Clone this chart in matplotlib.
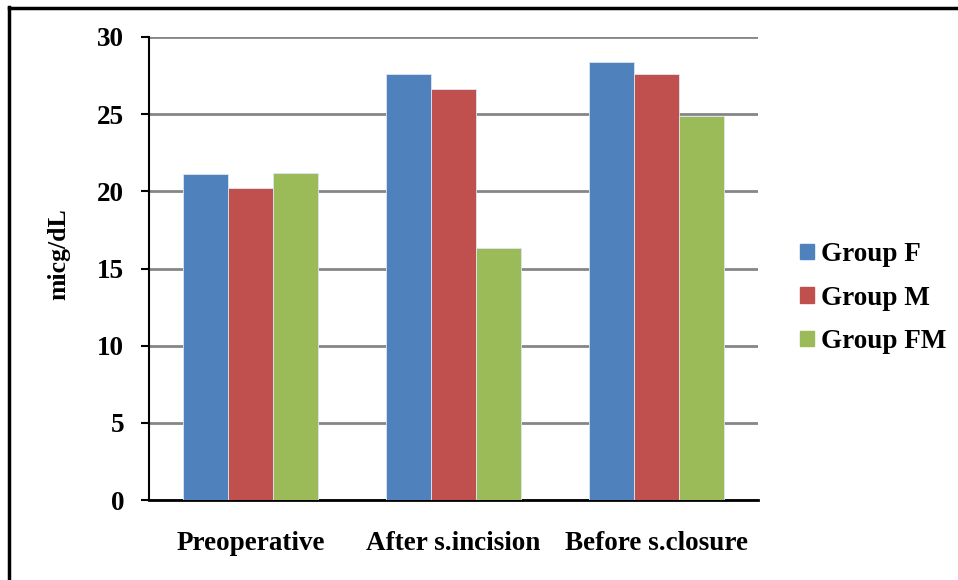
import matplotlib
matplotlib.use("Agg")
import matplotlib.pyplot as plt
import numpy as np
from matplotlib.lines import Line2D
from matplotlib.patches import Rectangle

categories = ["Preoperative", "After s.incision", "Before s.closure"]
series_names = ["Group F", "Group M", "Group FM"]
group_f = [21.1, 27.6, 28.4]
group_m = [20.2, 26.6, 27.6]
group_fm = [21.2, 16.3, 24.9]
colors = ["#4F81BD", "#C0504D", "#9BBB59"]
yticks = [0, 5, 10, 15, 20, 25, 30]

plt.rcParams['font.family'] = ['Liberation Serif', 'DejaVu Serif']
plt.rcParams['font.weight'] = 'bold'

W, H = 958, 580
fig = plt.figure(figsize=(W/100, H/100), dpi=100)
L, R, T, B = 149, 758, 37, 500
ax = fig.add_axes([L/W, 1 - B/H, (R-L)/W, (B-T)/H])

x = np.arange(len(categories))
bw = 0.222
for i, (vals, name, c) in enumerate(zip([group_f, group_m, group_fm], series_names, colors)):
    ax.bar(x + (i-1)*bw, vals, width=bw, color=c, edgecolor='#dde6f0', linewidth=0.6,
           label=name, zorder=3)

fs = 19.5
ax.set_xlim(-0.5, len(categories)-0.5)
ax.set_ylim(0, 30)
ax.set_yticks(yticks)
ax.set_yticklabels([str(v) for v in yticks], fontsize=fs, fontweight='bold')
ax.set_xticks(x)
ax.set_xticklabels(categories, fontsize=fs, fontweight='bold')
ax.tick_params(axis='x', length=0, pad=22)
ax.tick_params(axis='y', length=6, width=1.5, direction='out', pad=12)
ax.yaxis.grid(True, color='#868686', linewidth=2, zorder=0)
ax.set_axisbelow(True)
for s in ['top', 'right']:
    ax.spines[s].set_visible(False)
ax.spines['left'].set_linewidth(1.5)
ax.spines['bottom'].set_linewidth(2)

ax.set_ylabel("micg/dL", fontsize=18.5, fontweight='bold')
ax.yaxis.set_label_coords(-0.13, 0.53)

handles = [Rectangle((0, 0), 1, 1, color=c) for c in colors]
leg = fig.legend(handles, series_names, loc='center left', bbox_to_anchor=(776/W, 1 - 298/H),
                 frameon=False, prop={'size': fs, 'weight': 'bold'},
                 handlelength=0.5, handleheight=0.5, handletextpad=0.25, labelspacing=0.68)

# outer border (top and left visible)
fig.add_artist(Line2D([9/W, 9/W], [0, 1 - 7/H], color='black', linewidth=2.5, transform=fig.transFigure))
fig.add_artist(Line2D([9/W, 1], [1 - 8/H, 1 - 8/H], color='black', linewidth=2.5, transform=fig.transFigure))

fig.savefig("out.png", dpi=100)
